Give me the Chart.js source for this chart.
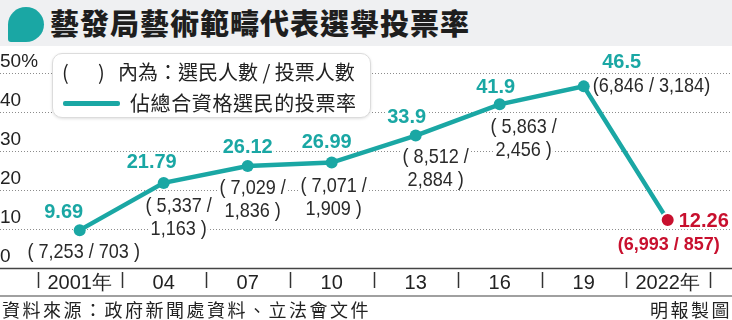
<!DOCTYPE html>
<html>
<head>
<meta charset="utf-8">
<script src="https://cdn.jsdelivr.net/npm/chart.js@4.4.1/dist/chart.umd.min.js"></script>
<style>
  body {
    margin: 0;
    width: 732px;
    height: 320px;
    overflow: hidden;
    position: relative;
    background: #fff;
    font-family: "Noto Sans CJK TC", "Liberation Sans", sans-serif;
    color: #222;
  }
  #head {
    position: absolute; left: 0; top: 0; width: 732px; height: 46px;
    background: #eff0f2;
  }
  #blob {
    position: absolute; left: 8px; top: 7px; width: 36px; height: 35px;
    background: #1aa7a4;
    border-radius: 50% 50% 50% 3px;
  }
  #title {
    position: absolute; left: 50px; top: 0; height: 46px; line-height: 44px;
    font-size: 29px; font-weight: 900; letter-spacing: 1px; color: #1e1e1e;
  }
  #wrap { position: absolute; left: 0; top: 46px; width: 732px; height: 250px; }
  #legend {
    position: absolute; left: 52px; top: 7px; width: 317px; height: 63px;
    background: #fff; border: 1px solid #dcdcdc; border-radius: 10px;
    box-shadow: 0 1px 3px rgba(0,0,0,0.12);
    font-size: 20px; color: #222;
  }
  #legend span, #legend div { position: absolute; line-height: 26px; white-space: nowrap; }
  #legend .po { left: 9px; top: 5px; }
  #legend .pc { left: 45px; top: 5px; }
  #legend .row1 { left: 65px; top: 5px; }
  #legend .row2 { left: 77px; top: 36px; letter-spacing: 0.6px; }
  #legend .swatch { left: 10px; top: 47px; width: 57px; height: 5px; background: #1aa7a4; border-radius: 2px; }
  #foot {
    position: absolute; left: 0; top: 295px; width: 732px; height: 25px;
    border-top: 2px solid #a0a0a0;
    font-size: 18px; line-height: 24px; letter-spacing: 2.5px; color: #222;
  }
  #foot .src { position: absolute; left: 2px; top: 0; }
  #foot .by { position: absolute; right: 0; top: 0; }
</style>
</head>
<body>
<div id="head"><div id="blob"></div><div id="title">藝發局藝術範疇代表選舉投票率</div></div>
<div id="wrap">
  <canvas id="chart"></canvas>
  <div id="legend">
    <span class="po">(</span><span class="pc">)</span>
    <span class="row1">內為：選民人數 / 投票人數</span>
    <div class="swatch"></div>
    <span class="row2">佔總合資格選民的投票率</span>
  </div>
</div>
<div id="foot"><span class="src">資料來源：政府新聞處資料、立法會文件</span><span class="by">明報製圖</span></div>

<script>
// data
const years = ["2001年", "04", "07", "10", "13", "16", "19", "2022年"];
const turnout = [9.69, 21.79, 26.12, 26.99, 33.9, 41.9, 46.5, 12.26];
const voters = [7253, 5337, 7029, 7071, 8512, 5863, 6846, 6993];
const votes = [703, 1163, 1836, 1909, 2884, 2456, 3184, 857];
const yTicks = [0, 10, 20, 30, 40, 50];

const TEAL = "#1aa7a4";
const RED = "#c8102e";
const LATIN = "'Liberation Sans', Arial, sans-serif";

const fmt = (n) => n.toLocaleString("en-US");

// label offsets from each dot (x, y)
const rateOff = [[-16, -18], [-12, -20], [0, -18], [-5, -20], [-9, -18], [-4, -17], [38, -24], [11, 1]];
const countOff = [[4, 22], [15, 23], [5, 22], [2, 24], [20, 22], [24, 23], [9, 0], [1, 25]];

// dotted grid + axis line + category separators
const backdrop = {
  id: "backdrop",
  beforeDatasetsDraw(chart) {
    const { ctx, chartArea, scales } = chart;
    const W = chart.width;
    ctx.save();
    ctx.strokeStyle = "#8c8c8c";
    ctx.lineWidth = 1;
    ctx.setLineDash([1, 2]);
    yTicks.forEach((v) => {
      if (v === 0) return;
      const y = Math.round(scales.y.getPixelForValue(v)) + 0.5;
      ctx.beginPath();
      ctx.moveTo(0, y);
      ctx.lineTo(W, y);
      ctx.stroke();
    });
    ctx.setLineDash([]);

    // axis line
    const yb = chartArea.bottom + 0.5;
    ctx.strokeStyle = "#444";
    ctx.lineWidth = 1.5;
    ctx.beginPath();
    ctx.moveTo(0, yb);
    ctx.lineTo(W, yb);
    ctx.stroke();

    // separators between categories
    const xs = scales.x;
    const half = (xs.getPixelForValue(1) - xs.getPixelForValue(0)) / 2;
    ctx.lineWidth = 1.5;
    ctx.strokeStyle = "#333";
    for (let i = 0; i <= years.length; i++) {
      const x = Math.round(xs.getPixelForValue(i) - half) + 0.5;
      ctx.beginPath();
      ctx.moveTo(x, chartArea.bottom + 4);
      ctx.lineTo(x, chartArea.bottom + 20);
      ctx.stroke();
    }
    ctx.restore();
  },
};

// narrow text: draw scaled horizontally
function drawText(ctx, str, x, y, align, sx, color) {
  const w = ctx.measureText(str).width * sx;
  let left = x - w / 2;
  if (align === "left") left = x;
  ctx.fillStyle = "#fff";
  ctx.fillRect(left - 1, y - 8, w + 2, 16);
  ctx.save();
  ctx.translate(left, y);
  ctx.scale(sx, 1);
  ctx.textAlign = "left";
  ctx.fillStyle = color;
  ctx.fillText(str, 0, 0);
  ctx.restore();
}

const labels = {
  id: "labels",
  afterDatasetsDraw(chart) {
    const ctx = chart.ctx;
    const pts = chart.getDatasetMeta(0).data;
    ctx.save();
    ctx.textBaseline = "middle";
    pts.forEach((p, i) => {
      const last = i === pts.length - 1;
      const color = last ? RED : TEAL;

      // turnout figure
      const [rx, ry] = rateOff[i];
      ctx.font = "bold 20px " + LATIN;
      drawText(ctx, String(turnout[i]), p.x + rx, p.y + ry, last ? "left" : "center", 1, color);

      // voters / votes
      const [cx, cy] = countOff[i];
      let lines;
      let align = "center";
      if (i === 0) lines = ["( " + fmt(voters[i]) + " / " + fmt(votes[i]) + " )"];
      else if (i === 6) { lines = ["(" + fmt(voters[i]) + " / " + fmt(votes[i]) + ")"]; align = "left"; }
      else if (last) lines = ["(" + fmt(voters[i]) + " / " + fmt(votes[i]) + ")"];
      else lines = ["( " + fmt(voters[i]) + " /", fmt(votes[i]) + " )"];

      ctx.font = last ? "bold 18px " + LATIN : "21px " + LATIN;
      lines.forEach((ln, k) => {
        drawText(ctx, ln, p.x + cx, p.y + cy + k * 23, align, last ? 1 : 0.86, last ? RED : "#2a2a2a");
      });
    });
    ctx.restore();
  },
};

new Chart(document.getElementById("chart"), {
  type: "line",
  data: {
    labels: years,
    datasets: [
      {
        data: turnout,
        borderColor: TEAL,
        borderWidth: 4.5,
        tension: 0,
        pointRadius: turnout.map((_, i) => (i === turnout.length - 1 ? 7 : 6)),
        pointBackgroundColor: turnout.map((_, i) => (i === turnout.length - 1 ? RED : TEAL)),
        pointBorderColor: "#fff",
        pointBorderWidth: turnout.map((_, i) => (i === turnout.length - 1 ? 2 : 0)),
        clip: false,
      },
    ],
  },
  options: {
    responsive: true,
    maintainAspectRatio: false,
    animation: false,
    events: [],
    layout: { padding: { top: 26.7, right: 22.3, left: 0, bottom: 0 } },
    plugins: { legend: { display: false }, tooltip: { enabled: false } },
    scales: {
      x: {
        type: "category",
        offset: true,
        grid: { display: false, drawTicks: false },
        border: { display: false },
        ticks: { color: "#222", font: { family: LATIN, size: 20 }, padding: 3, maxRotation: 0 },
        afterFit: (s) => { s.height = 28; },
      },
      y: {
        min: 0,
        max: 50,
        grid: { display: false, drawTicks: false },
        border: { display: false },
        ticks: {
          stepSize: 10,
          color: "#222",
          font: { family: LATIN, size: 19 },
          crossAlign: "far",
          labelOffset: -11,
          padding: 0,
          callback: (v) => (v === 50 ? "50%" : v),
        },
        afterFit: (s) => { s.width = 37.7; },
      },
    },
  },
  plugins: [backdrop, labels],
});
</script>
</body>
</html>
